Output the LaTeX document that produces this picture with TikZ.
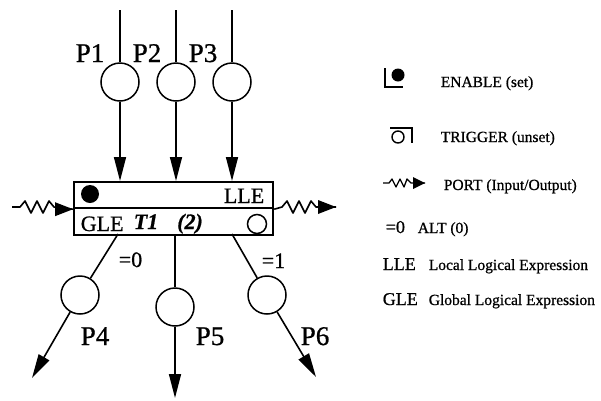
\documentclass[tikz,border=0pt]{standalone}
\usepackage{fontspec}
\setmainfont[FakeBold=0.8]{Liberation Serif}
\usetikzlibrary{arrows.meta}
\begin{document}
\begin{tikzpicture}[x=1pt,y=-1pt,
  line width=1.6pt,
  place/.style={circle,draw,minimum size=38pt,inner sep=0pt,line width=1.5pt},
  big/.style={font=\fontsize{27}{27}\selectfont, inner sep=0pt, anchor=base west},
  mid/.style={font=\fontsize{22}{22}\selectfont, inner sep=0pt, anchor=base west},
  small/.style={font=\fontsize{15.5}{15.5}\selectfont, inner sep=0pt, anchor=base west},
  legbig/.style={font=\fontsize{18}{18}\selectfont, inner sep=0pt, anchor=base west},
  arr/.style={-{Triangle[length=24pt,width=12pt]}},
  boxpart/.style={draw,line width=2.2pt,minimum width=199pt,inner sep=0pt,anchor=north west},
]
\useasboundingbox (0,0) rectangle (601,400);

% input places
\coordinate (t1) at (120,10);
\coordinate (t2) at (176,10);
\coordinate (t3) at (232,10);
\node[place] (p1) at (120,82) {};
\node[place] (p2) at (176,82) {};
\node[place] (p3) at (232,82) {};
\node[big] (l1) at (75,62) {P1};
\node[big] (l2) at (132,62) {P2};
\node[big] (l3) at (188,62) {P3};

% transition box
\node[boxpart,minimum height=26pt] (lle) at (73,181) {};
\node[boxpart,minimum height=27pt] (gle) at (73,207) {};
\node[circle,fill,minimum size=18pt,inner sep=0pt] (en) at (90,194) {};
\node[mid,anchor=base east] (llet) at (265,203) {LLE};
\node[mid] (glet) at (80,231) {GLE};
\node[mid] (tt) at (133,229) {\bfseries\itshape T1\hspace{19pt}(2)};
\node[circle,draw,minimum size=19pt,inner sep=0pt,line width=1.5pt] (tr) at (257,224) {};

\draw (t1) -- (p1);
\draw (t2) -- (p2);
\draw (t3) -- (p3);
\draw[arr] (p1) -- (p1 |- lle.north);
\draw[arr] (p2) -- (p2 |- lle.north);
\draw[arr] (p3) -- (p3 |- lle.north);

% ports
\coordinate (lin) at (12,207);
\coordinate (lz) at (54,207);
\draw[line join=round] (lin) -- (20,207) -- (25,201) -- (31,213) -- (37,201) -- (43,213) -- (49,201) -- (lz) -- (lle.south west);
\fill (lle.south west) -- ++(-18,-7) -- ++(0,14) -- cycle;
\coordinate (rz) at (316,207);
\coordinate (rout) at (336,207);
\draw[line join=round] (lle.south east) -- (282,207) -- (287,201) -- (293,213) -- (299,201) -- (305,213) -- (311,201) -- (rz) -- (rout);
\fill (rout) -- ++(-18,-7) -- ++(0,14) -- cycle;

% output places
\coordinate (b4) at (118,234);
\coordinate (b5) at (175,234);
\coordinate (b6) at (232,234);
\node[place] (p4) at (80,295) {};
\node[place] (p5) at (175,307) {};
\node[place] (p6) at (267,295) {};
\coordinate (e4) at (32,378);
\coordinate (e5) at (175,398);
\coordinate (e6) at (316,377);
\draw (b4) -- (p4);
\draw (b5) -- (p5);
\draw (b6) -- (p6);
\draw[arr] (p4) -- (e4);
\draw[arr] (p5) -- (e5);
\draw[arr] (p6) -- (e6);
\node[mid] (a0) at (118,267) {=0};
\node[mid] (a1) at (261,268) {=1};
\node[big] (l4) at (80,345) {P4};
\node[big] (l5) at (195,345) {P5};
\node[big] (l6) at (300,345) {P6};

% legend
\draw[line width=1.4pt] (385,68) -- (385,87) -- (403,87);
\fill (398,75) circle (6.5pt);
\node[small] (k1) at (440,87) {ENABLE (set)};
\draw[line width=1.4pt] (390,128) -- (412,128) -- (412,143);
\draw[line width=1.4pt] (398,137) circle (6pt);
\node[small] (k2) at (440,142) {TRIGGER (unset)};
\coordinate (kend) at (425,183);
\draw[line width=1.3pt,line join=round] (383,183) -- (389,183) -- (392,179) -- (396,187) -- (400,179) -- (404,187) -- (407,179) -- (411,183) -- (kend);
\fill (kend) -- ++(-12,-6) -- ++(0,12) -- cycle;
\node[small] (k3) at (443,190) {PORT (Input/Output)};
\node[legbig] (k4s) at (385,233) {=0};
\node[small] (k4) at (417,233) {ALT (0)};
\node[legbig] (k5s) at (382,270) {LLE};
\node[small] (k5) at (428,270) {Local Logical Expression};
\node[legbig] (k6s) at (382,305) {GLE};
\node[small] (k6) at (428,305) {Global Logical Expression};
\end{tikzpicture}
\end{document}
